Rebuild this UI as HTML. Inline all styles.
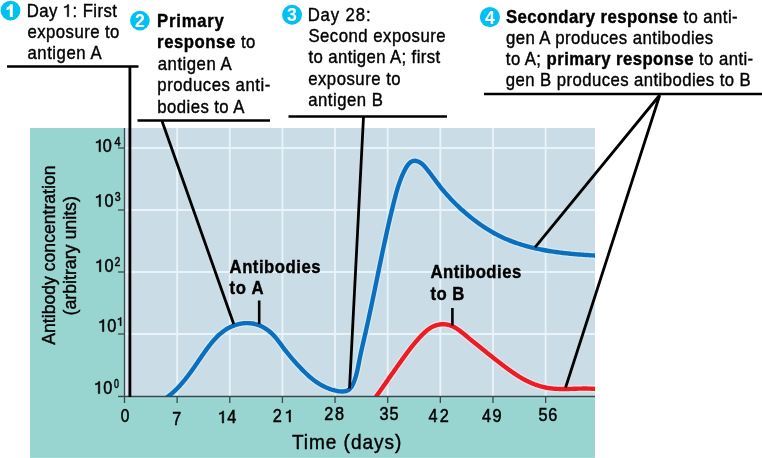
<!DOCTYPE html>
<html><head><meta charset="utf-8"><style>
html,body{margin:0;padding:0;background:#fff;width:762px;height:458px;overflow:hidden}
svg{display:block;will-change:transform}
text{font-family:"Liberation Sans",sans-serif;fill:#000;stroke:#000;stroke-width:0.4px}
text.cd{fill:#fff;stroke:none}
text.num{stroke-width:0.5px}
tspan.h{fill:none;stroke:none}
path.one{fill:#000;stroke:#000;stroke-width:0.4px;vector-effect:non-scaling-stroke}
path.one.num{stroke-width:0.5px}
</style></head><body>
<svg width="762" height="458" viewBox="0 0 762 458">
<rect x="30" y="128" width="565" height="330" fill="#98d4d0"/>
<rect x="125" y="128" width="470" height="268.5" fill="#cadde6"/>
<rect x="118" y="397.4" width="477" height="1.6" fill="#a0dcd9"/>
<rect x="30" y="457" width="565" height="1" fill="#a2dbd8"/>
<line x1="177.14" y1="128" x2="177.14" y2="396" stroke="#e9f4fa" stroke-width="1.8"/>
<line x1="229.78" y1="128" x2="229.78" y2="396" stroke="#e9f4fa" stroke-width="1.8"/>
<line x1="282.42" y1="128" x2="282.42" y2="396" stroke="#e9f4fa" stroke-width="1.8"/>
<line x1="335.06" y1="128" x2="335.06" y2="396" stroke="#e9f4fa" stroke-width="1.8"/>
<line x1="387.70" y1="128" x2="387.70" y2="396" stroke="#e9f4fa" stroke-width="1.8"/>
<line x1="440.34" y1="128" x2="440.34" y2="396" stroke="#e9f4fa" stroke-width="1.8"/>
<line x1="492.98" y1="128" x2="492.98" y2="396" stroke="#e9f4fa" stroke-width="1.8"/>
<line x1="545.62" y1="128" x2="545.62" y2="396" stroke="#e9f4fa" stroke-width="1.8"/>
<line x1="126.5" y1="128" x2="126.5" y2="396" stroke="#dce9f1" stroke-width="2.4"/>
<line x1="125" y1="334" x2="595" y2="334" stroke="#e9f4fa" stroke-width="1.8"/>
<line x1="125" y1="272" x2="595" y2="272" stroke="#e9f4fa" stroke-width="1.8"/>
<line x1="125" y1="210" x2="595" y2="210" stroke="#e9f4fa" stroke-width="1.8"/>
<line x1="125" y1="148" x2="595" y2="148" stroke="#e9f4fa" stroke-width="1.8"/>
<defs><clipPath id="pc"><rect x="125" y="128" width="470" height="268"/></clipPath></defs>
<g clip-path="url(#pc)" fill="none" stroke-linecap="round" stroke-linejoin="round">
<path d="M159.81,402.07 L161.11,401.28 L162.39,400.48 L163.65,399.66 L164.87,398.83 L166.08,397.98 L167.25,397.11 L168.41,396.23 L169.54,395.34 L170.66,394.43 L171.75,393.50 L172.82,392.57 L173.87,391.62 L174.90,390.65 L175.92,389.68 L176.92,388.69 L177.90,387.69 L178.87,386.68 L179.82,385.66 L180.75,384.62 L181.68,383.58 L182.59,382.53 L183.48,381.46 L184.37,380.39 L185.25,379.31 L186.11,378.22 L186.97,377.12 L187.82,376.01 L188.66,374.90 L189.50,373.77 L190.33,372.65 L191.15,371.51 L191.97,370.37 L192.78,369.22 L193.59,368.07 L194.40,366.91 L195.21,365.75 L196.01,364.58 L196.82,363.41 L197.62,362.23 L198.43,361.05 L199.24,359.87 L200.05,358.68 L200.86,357.50 L201.68,356.31 L202.50,355.12 L203.33,353.92 L204.17,352.73 L205.01,351.54 L205.86,350.35 L206.72,349.17 L207.58,347.99 L208.46,346.82 L209.35,345.65 L210.25,344.50 L211.16,343.37 L212.08,342.24 L213.02,341.14 L213.97,340.05 L214.94,338.98 L215.92,337.93 L216.92,336.90 L217.94,335.90 L218.97,334.93 L220.02,333.98 L221.10,333.06 L222.19,332.17 L223.30,331.32 L224.44,330.49 L225.60,329.71 L226.78,328.96 L227.98,328.25 L229.21,327.59 L230.46,326.96 L231.74,326.38 L233.04,325.84 L234.36,325.35 L235.70,324.91 L237.05,324.51 L238.42,324.16 L239.79,323.86 L241.18,323.61 L242.58,323.41 L243.98,323.26 L245.38,323.16 L246.79,323.12 L248.19,323.13 L249.60,323.20 L251.00,323.32 L252.39,323.51 L253.77,323.75 L255.15,324.04 L256.51,324.40 L257.86,324.82 L259.19,325.30 L260.50,325.85 L261.79,326.44 L263.06,327.09 L264.31,327.80 L265.53,328.55 L266.72,329.34 L267.89,330.18 L269.02,331.06 L270.12,331.98 L271.19,332.93 L272.22,333.92 L273.21,334.93 L274.18,335.97 L275.12,337.03 L276.04,338.12 L276.93,339.22 L277.82,340.34 L278.69,341.48 L279.55,342.62 L280.40,343.77 L281.26,344.93 L282.11,346.09 L282.97,347.24 L283.84,348.40 L284.72,349.55 L285.61,350.70 L286.50,351.84 L287.41,352.97 L288.32,354.10 L289.24,355.23 L290.16,356.34 L291.10,357.45 L292.03,358.56 L292.98,359.65 L293.93,360.74 L294.88,361.82 L295.84,362.89 L296.80,363.95 L297.77,365.00 L298.74,366.04 L299.71,367.08 L300.68,368.10 L301.66,369.11 L302.64,370.10 L303.62,371.09 L304.60,372.06 L305.58,373.03 L306.58,373.98 L307.58,374.91 L308.59,375.83 L309.61,376.74 L310.66,377.63 L311.72,378.51 L312.80,379.37 L313.90,380.22 L315.02,381.05 L316.17,381.86 L317.33,382.65 L318.52,383.41 L319.73,384.16 L320.97,384.88 L322.22,385.57 L323.50,386.23 L324.79,386.86 L326.11,387.46 L327.46,388.03 L328.82,388.57 L330.21,389.07 L331.62,389.53 L333.05,389.95 L334.51,390.34 L335.99,390.68 L337.49,390.98 L338.99,391.22 L340.50,391.38 L341.97,391.46 L343.41,391.43 L344.80,391.29 L346.11,391.00 L347.34,390.56 L348.46,389.96 L349.48,389.18 L350.40,388.25 L351.23,387.20 L351.98,386.04 L352.66,384.80 L353.28,383.49 L353.84,382.14 L354.36,380.78 L354.84,379.40 L355.30,378.03 L355.72,376.66 L356.12,375.28 L356.49,373.91 L356.84,372.53 L357.17,371.15 L357.48,369.78 L357.78,368.40 L358.06,367.02 L358.34,365.64 L358.61,364.26 L358.88,362.88 L359.15,361.50 L359.41,360.12 L359.68,358.74 L359.96,357.36 L360.24,355.98 L360.53,354.59 L360.82,353.21 L361.12,351.82 L361.43,350.44 L361.74,349.05 L362.05,347.67 L362.37,346.28 L362.68,344.90 L363.00,343.51 L363.33,342.12 L363.65,340.73 L363.97,339.34 L364.29,337.96 L364.61,336.57 L364.93,335.18 L365.25,333.79 L365.57,332.40 L365.89,331.01 L366.20,329.62 L366.51,328.22 L366.82,326.83 L367.13,325.44 L367.44,324.05 L367.75,322.66 L368.05,321.26 L368.36,319.87 L368.66,318.48 L368.96,317.08 L369.26,315.69 L369.56,314.30 L369.86,312.90 L370.16,311.51 L370.46,310.11 L370.76,308.72 L371.05,307.32 L371.35,305.93 L371.64,304.53 L371.93,303.14 L372.22,301.74 L372.52,300.35 L372.81,298.95 L373.10,297.56 L373.39,296.16 L373.68,294.77 L373.96,293.37 L374.25,291.97 L374.54,290.58 L374.83,289.18 L375.12,287.79 L375.40,286.39 L375.69,285.00 L375.98,283.60 L376.26,282.20 L376.55,280.81 L376.84,279.41 L377.12,278.02 L377.41,276.62 L377.69,275.23 L377.98,273.83 L378.27,272.44 L378.55,271.04 L378.84,269.65 L379.13,268.25 L379.42,266.86 L379.70,265.47 L379.99,264.07 L380.28,262.68 L380.57,261.29 L380.86,259.89 L381.15,258.50 L381.44,257.11 L381.73,255.72 L382.02,254.32 L382.31,252.93 L382.61,251.54 L382.90,250.15 L383.20,248.76 L383.49,247.37 L383.79,245.98 L384.08,244.59 L384.38,243.20 L384.68,241.81 L384.98,240.42 L385.28,239.03 L385.59,237.65 L385.89,236.26 L386.19,234.87 L386.50,233.48 L386.81,232.10 L387.12,230.71 L387.43,229.33 L387.74,227.94 L388.05,226.56 L388.37,225.18 L388.68,223.79 L389.00,222.41 L389.32,221.03 L389.64,219.65 L389.96,218.27 L390.28,216.89 L390.61,215.51 L390.94,214.13 L391.27,212.75 L391.60,211.37 L391.93,210.00 L392.27,208.62 L392.60,207.25 L392.94,205.87 L393.28,204.50 L393.63,203.12 L393.97,201.75 L394.32,200.38 L394.67,199.01 L395.02,197.64 L395.38,196.27 L395.74,194.90 L396.11,193.53 L396.49,192.16 L396.88,190.80 L397.28,189.43 L397.68,188.07 L398.11,186.70 L398.54,185.34 L398.99,183.98 L399.46,182.62 L399.94,181.26 L400.45,179.90 L400.97,178.54 L401.51,177.18 L402.08,175.82 L402.67,174.47 L403.28,173.12 L403.92,171.76 L404.59,170.41 L405.29,169.07 L406.02,167.75 L406.79,166.49 L407.60,165.30 L408.46,164.20 L409.37,163.22 L410.33,162.38 L411.35,161.69 L412.44,161.19 L413.60,160.89 L414.83,160.81 L416.12,160.95 L417.43,161.29 L418.75,161.81 L420.03,162.48 L421.26,163.29 L422.41,164.21 L423.49,165.23 L424.52,166.32 L425.50,167.45 L426.45,168.61 L427.38,169.78 L428.29,170.94 L429.19,172.11 L430.08,173.27 L430.95,174.43 L431.82,175.59 L432.68,176.74 L433.53,177.89 L434.38,179.03 L435.23,180.18 L436.08,181.31 L436.92,182.44 L437.78,183.57 L438.63,184.69 L439.49,185.80 L440.36,186.91 L441.24,188.01 L442.13,189.10 L443.03,190.19 L443.93,191.27 L444.84,192.34 L445.77,193.40 L446.70,194.46 L447.64,195.52 L448.58,196.56 L449.54,197.60 L450.50,198.63 L451.47,199.66 L452.45,200.68 L453.44,201.69 L454.44,202.70 L455.44,203.69 L456.45,204.69 L457.47,205.67 L458.50,206.65 L459.53,207.62 L460.58,208.59 L461.63,209.54 L462.69,210.50 L463.75,211.44 L464.82,212.38 L465.90,213.31 L466.99,214.23 L468.09,215.15 L469.19,216.06 L470.30,216.97 L471.42,217.86 L472.54,218.75 L473.67,219.63 L474.81,220.50 L475.95,221.36 L477.10,222.21 L478.26,223.05 L479.43,223.89 L480.60,224.71 L481.78,225.52 L482.96,226.32 L484.16,227.12 L485.35,227.90 L486.56,228.67 L487.77,229.43 L488.99,230.17 L490.21,230.91 L491.44,231.63 L492.68,232.34 L493.92,233.04 L495.17,233.72 L496.42,234.39 L497.68,235.05 L498.95,235.69 L500.22,236.32 L501.50,236.94 L502.78,237.54 L504.07,238.13 L505.37,238.70 L506.67,239.26 L507.97,239.81 L509.28,240.34 L510.60,240.86 L511.92,241.37 L513.24,241.87 L514.57,242.35 L515.90,242.83 L517.24,243.29 L518.59,243.73 L519.93,244.17 L521.28,244.60 L522.64,245.01 L524.00,245.41 L525.36,245.80 L526.73,246.19 L528.10,246.56 L529.47,246.92 L530.84,247.27 L532.22,247.61 L533.61,247.94 L534.99,248.26 L536.38,248.57 L537.77,248.87 L539.16,249.17 L540.56,249.45 L541.96,249.73 L543.36,250.00 L544.76,250.25 L546.17,250.51 L547.57,250.75 L548.98,250.98 L550.39,251.21 L551.81,251.43 L553.22,251.64 L554.63,251.85 L556.05,252.05 L557.47,252.24 L558.88,252.43 L560.30,252.61 L561.72,252.78 L563.14,252.95 L564.57,253.11 L565.99,253.27 L567.41,253.42 L568.83,253.56 L570.25,253.70 L571.67,253.84 L573.10,253.97 L574.52,254.10 L575.94,254.22 L577.36,254.34 L578.78,254.45 L580.20,254.56 L581.62,254.67 L583.04,254.77 L584.46,254.87 L585.87,254.97 L587.29,255.06 L588.70,255.16 L590.11,255.25 L591.52,255.33 L592.93,255.42 L594.34,255.50 L595.74,255.58 L597.14,255.66 L598.54,255.74 L599.94,255.81" stroke="#d2ebf8" stroke-width="6.8"/>
<path d="M159.81,402.07 L161.11,401.28 L162.39,400.48 L163.65,399.66 L164.87,398.83 L166.08,397.98 L167.25,397.11 L168.41,396.23 L169.54,395.34 L170.66,394.43 L171.75,393.50 L172.82,392.57 L173.87,391.62 L174.90,390.65 L175.92,389.68 L176.92,388.69 L177.90,387.69 L178.87,386.68 L179.82,385.66 L180.75,384.62 L181.68,383.58 L182.59,382.53 L183.48,381.46 L184.37,380.39 L185.25,379.31 L186.11,378.22 L186.97,377.12 L187.82,376.01 L188.66,374.90 L189.50,373.77 L190.33,372.65 L191.15,371.51 L191.97,370.37 L192.78,369.22 L193.59,368.07 L194.40,366.91 L195.21,365.75 L196.01,364.58 L196.82,363.41 L197.62,362.23 L198.43,361.05 L199.24,359.87 L200.05,358.68 L200.86,357.50 L201.68,356.31 L202.50,355.12 L203.33,353.92 L204.17,352.73 L205.01,351.54 L205.86,350.35 L206.72,349.17 L207.58,347.99 L208.46,346.82 L209.35,345.65 L210.25,344.50 L211.16,343.37 L212.08,342.24 L213.02,341.14 L213.97,340.05 L214.94,338.98 L215.92,337.93 L216.92,336.90 L217.94,335.90 L218.97,334.93 L220.02,333.98 L221.10,333.06 L222.19,332.17 L223.30,331.32 L224.44,330.49 L225.60,329.71 L226.78,328.96 L227.98,328.25 L229.21,327.59 L230.46,326.96 L231.74,326.38 L233.04,325.84 L234.36,325.35 L235.70,324.91 L237.05,324.51 L238.42,324.16 L239.79,323.86 L241.18,323.61 L242.58,323.41 L243.98,323.26 L245.38,323.16 L246.79,323.12 L248.19,323.13 L249.60,323.20 L251.00,323.32 L252.39,323.51 L253.77,323.75 L255.15,324.04 L256.51,324.40 L257.86,324.82 L259.19,325.30 L260.50,325.85 L261.79,326.44 L263.06,327.09 L264.31,327.80 L265.53,328.55 L266.72,329.34 L267.89,330.18 L269.02,331.06 L270.12,331.98 L271.19,332.93 L272.22,333.92 L273.21,334.93 L274.18,335.97 L275.12,337.03 L276.04,338.12 L276.93,339.22 L277.82,340.34 L278.69,341.48 L279.55,342.62 L280.40,343.77 L281.26,344.93 L282.11,346.09 L282.97,347.24 L283.84,348.40 L284.72,349.55 L285.61,350.70 L286.50,351.84 L287.41,352.97 L288.32,354.10 L289.24,355.23 L290.16,356.34 L291.10,357.45 L292.03,358.56 L292.98,359.65 L293.93,360.74 L294.88,361.82 L295.84,362.89 L296.80,363.95 L297.77,365.00 L298.74,366.04 L299.71,367.08 L300.68,368.10 L301.66,369.11 L302.64,370.10 L303.62,371.09 L304.60,372.06 L305.58,373.03 L306.58,373.98 L307.58,374.91 L308.59,375.83 L309.61,376.74 L310.66,377.63 L311.72,378.51 L312.80,379.37 L313.90,380.22 L315.02,381.05 L316.17,381.86 L317.33,382.65 L318.52,383.41 L319.73,384.16 L320.97,384.88 L322.22,385.57 L323.50,386.23 L324.79,386.86 L326.11,387.46 L327.46,388.03 L328.82,388.57 L330.21,389.07 L331.62,389.53 L333.05,389.95 L334.51,390.34 L335.99,390.68 L337.49,390.98 L338.99,391.22 L340.50,391.38 L341.97,391.46 L343.41,391.43 L344.80,391.29 L346.11,391.00 L347.34,390.56 L348.46,389.96 L349.48,389.18 L350.40,388.25 L351.23,387.20 L351.98,386.04 L352.66,384.80 L353.28,383.49 L353.84,382.14 L354.36,380.78 L354.84,379.40 L355.30,378.03 L355.72,376.66 L356.12,375.28 L356.49,373.91 L356.84,372.53 L357.17,371.15 L357.48,369.78 L357.78,368.40 L358.06,367.02 L358.34,365.64 L358.61,364.26 L358.88,362.88 L359.15,361.50 L359.41,360.12 L359.68,358.74 L359.96,357.36 L360.24,355.98 L360.53,354.59 L360.82,353.21 L361.12,351.82 L361.43,350.44 L361.74,349.05 L362.05,347.67 L362.37,346.28 L362.68,344.90 L363.00,343.51 L363.33,342.12 L363.65,340.73 L363.97,339.34 L364.29,337.96 L364.61,336.57 L364.93,335.18 L365.25,333.79 L365.57,332.40 L365.89,331.01 L366.20,329.62 L366.51,328.22 L366.82,326.83 L367.13,325.44 L367.44,324.05 L367.75,322.66 L368.05,321.26 L368.36,319.87 L368.66,318.48 L368.96,317.08 L369.26,315.69 L369.56,314.30 L369.86,312.90 L370.16,311.51 L370.46,310.11 L370.76,308.72 L371.05,307.32 L371.35,305.93 L371.64,304.53 L371.93,303.14 L372.22,301.74 L372.52,300.35 L372.81,298.95 L373.10,297.56 L373.39,296.16 L373.68,294.77 L373.96,293.37 L374.25,291.97 L374.54,290.58 L374.83,289.18 L375.12,287.79 L375.40,286.39 L375.69,285.00 L375.98,283.60 L376.26,282.20 L376.55,280.81 L376.84,279.41 L377.12,278.02 L377.41,276.62 L377.69,275.23 L377.98,273.83 L378.27,272.44 L378.55,271.04 L378.84,269.65 L379.13,268.25 L379.42,266.86 L379.70,265.47 L379.99,264.07 L380.28,262.68 L380.57,261.29 L380.86,259.89 L381.15,258.50 L381.44,257.11 L381.73,255.72 L382.02,254.32 L382.31,252.93 L382.61,251.54 L382.90,250.15 L383.20,248.76 L383.49,247.37 L383.79,245.98 L384.08,244.59 L384.38,243.20 L384.68,241.81 L384.98,240.42 L385.28,239.03 L385.59,237.65 L385.89,236.26 L386.19,234.87 L386.50,233.48 L386.81,232.10 L387.12,230.71 L387.43,229.33 L387.74,227.94 L388.05,226.56 L388.37,225.18 L388.68,223.79 L389.00,222.41 L389.32,221.03 L389.64,219.65 L389.96,218.27 L390.28,216.89 L390.61,215.51 L390.94,214.13 L391.27,212.75 L391.60,211.37 L391.93,210.00 L392.27,208.62 L392.60,207.25 L392.94,205.87 L393.28,204.50 L393.63,203.12 L393.97,201.75 L394.32,200.38 L394.67,199.01 L395.02,197.64 L395.38,196.27 L395.74,194.90 L396.11,193.53 L396.49,192.16 L396.88,190.80 L397.28,189.43 L397.68,188.07 L398.11,186.70 L398.54,185.34 L398.99,183.98 L399.46,182.62 L399.94,181.26 L400.45,179.90 L400.97,178.54 L401.51,177.18 L402.08,175.82 L402.67,174.47 L403.28,173.12 L403.92,171.76 L404.59,170.41 L405.29,169.07 L406.02,167.75 L406.79,166.49 L407.60,165.30 L408.46,164.20 L409.37,163.22 L410.33,162.38 L411.35,161.69 L412.44,161.19 L413.60,160.89 L414.83,160.81 L416.12,160.95 L417.43,161.29 L418.75,161.81 L420.03,162.48 L421.26,163.29 L422.41,164.21 L423.49,165.23 L424.52,166.32 L425.50,167.45 L426.45,168.61 L427.38,169.78 L428.29,170.94 L429.19,172.11 L430.08,173.27 L430.95,174.43 L431.82,175.59 L432.68,176.74 L433.53,177.89 L434.38,179.03 L435.23,180.18 L436.08,181.31 L436.92,182.44 L437.78,183.57 L438.63,184.69 L439.49,185.80 L440.36,186.91 L441.24,188.01 L442.13,189.10 L443.03,190.19 L443.93,191.27 L444.84,192.34 L445.77,193.40 L446.70,194.46 L447.64,195.52 L448.58,196.56 L449.54,197.60 L450.50,198.63 L451.47,199.66 L452.45,200.68 L453.44,201.69 L454.44,202.70 L455.44,203.69 L456.45,204.69 L457.47,205.67 L458.50,206.65 L459.53,207.62 L460.58,208.59 L461.63,209.54 L462.69,210.50 L463.75,211.44 L464.82,212.38 L465.90,213.31 L466.99,214.23 L468.09,215.15 L469.19,216.06 L470.30,216.97 L471.42,217.86 L472.54,218.75 L473.67,219.63 L474.81,220.50 L475.95,221.36 L477.10,222.21 L478.26,223.05 L479.43,223.89 L480.60,224.71 L481.78,225.52 L482.96,226.32 L484.16,227.12 L485.35,227.90 L486.56,228.67 L487.77,229.43 L488.99,230.17 L490.21,230.91 L491.44,231.63 L492.68,232.34 L493.92,233.04 L495.17,233.72 L496.42,234.39 L497.68,235.05 L498.95,235.69 L500.22,236.32 L501.50,236.94 L502.78,237.54 L504.07,238.13 L505.37,238.70 L506.67,239.26 L507.97,239.81 L509.28,240.34 L510.60,240.86 L511.92,241.37 L513.24,241.87 L514.57,242.35 L515.90,242.83 L517.24,243.29 L518.59,243.73 L519.93,244.17 L521.28,244.60 L522.64,245.01 L524.00,245.41 L525.36,245.80 L526.73,246.19 L528.10,246.56 L529.47,246.92 L530.84,247.27 L532.22,247.61 L533.61,247.94 L534.99,248.26 L536.38,248.57 L537.77,248.87 L539.16,249.17 L540.56,249.45 L541.96,249.73 L543.36,250.00 L544.76,250.25 L546.17,250.51 L547.57,250.75 L548.98,250.98 L550.39,251.21 L551.81,251.43 L553.22,251.64 L554.63,251.85 L556.05,252.05 L557.47,252.24 L558.88,252.43 L560.30,252.61 L561.72,252.78 L563.14,252.95 L564.57,253.11 L565.99,253.27 L567.41,253.42 L568.83,253.56 L570.25,253.70 L571.67,253.84 L573.10,253.97 L574.52,254.10 L575.94,254.22 L577.36,254.34 L578.78,254.45 L580.20,254.56 L581.62,254.67 L583.04,254.77 L584.46,254.87 L585.87,254.97 L587.29,255.06 L588.70,255.16 L590.11,255.25 L591.52,255.33 L592.93,255.42 L594.34,255.50 L595.74,255.58 L597.14,255.66 L598.54,255.74 L599.94,255.81" stroke="#0d6fbb" stroke-width="4.4"/>
<path d="M372.07,402.00 L372.40,401.55 L372.74,401.09 L373.07,400.64 L373.40,400.19 L373.74,399.73 L374.07,399.28 L374.40,398.82 L374.74,398.36 L375.07,397.90 L375.40,397.45 L375.74,396.99 L376.07,396.53 L376.40,396.07 L376.73,395.61 L377.07,395.15 L377.40,394.68 L377.73,394.22 L378.06,393.76 L378.39,393.30 L378.72,392.83 L379.06,392.37 L379.39,391.90 L379.72,391.44 L380.05,390.97 L380.38,390.51 L380.71,390.04 L381.04,389.58 L381.37,389.11 L381.70,388.64 L382.03,388.17 L382.36,387.71 L382.69,387.24 L383.02,386.77 L383.35,386.30 L383.68,385.83 L384.01,385.36 L384.34,384.90 L384.67,384.43 L385.00,383.96 L385.33,383.49 L385.66,383.02 L385.99,382.55 L386.32,382.08 L386.65,381.60 L386.98,381.13 L387.31,380.66 L387.63,380.19 L387.96,379.72 L388.29,379.25 L388.62,378.78 L388.95,378.31 L389.28,377.84 L389.61,377.37 L389.94,376.90 L390.27,376.43 L390.60,375.95 L390.92,375.48 L391.25,375.01 L391.58,374.54 L391.91,374.07 L392.24,373.60 L392.57,373.13 L392.90,372.66 L393.23,372.19 L393.56,371.72 L393.88,371.25 L394.21,370.78 L394.54,370.31 L394.87,369.84 L395.20,369.38 L395.53,368.91 L395.86,368.44 L396.19,367.97 L396.52,367.50 L396.85,367.04 L397.18,366.57 L397.51,366.10 L397.84,365.64 L398.17,365.17 L398.50,364.70 L398.82,364.24 L399.15,363.78 L399.48,363.31 L399.81,362.85 L400.15,362.38 L400.48,361.92 L400.81,361.46 L401.14,361.00 L401.47,360.54 L401.80,360.07 L402.13,359.61 L402.46,359.15 L402.79,358.70 L403.12,358.24 L403.45,357.78 L403.78,357.32 L404.12,356.86 L404.45,356.41 L404.78,355.95 L405.11,355.50 L405.44,355.04 L405.78,354.59 L406.11,354.14 L406.44,353.69 L406.78,353.23 L407.11,352.78 L407.44,352.33 L407.78,351.88 L408.12,351.44 L408.45,350.99 L408.79,350.54 L409.13,350.09 L409.47,349.65 L409.81,349.20 L410.15,348.76 L410.50,348.31 L410.84,347.87 L411.19,347.43 L411.53,346.99 L411.88,346.54 L412.23,346.10 L412.59,345.66 L412.94,345.22 L413.30,344.79 L413.65,344.35 L414.01,343.91 L414.38,343.47 L414.74,343.04 L415.10,342.60 L415.47,342.17 L415.84,341.73 L416.22,341.30 L416.59,340.87 L416.97,340.44 L417.35,340.00 L417.73,339.57 L418.12,339.14 L418.50,338.71 L418.89,338.29 L419.29,337.86 L419.69,337.43 L420.08,337.00 L420.49,336.58 L420.89,336.15 L421.30,335.73 L421.72,335.30 L422.13,334.88 L422.55,334.46 L422.97,334.04 L423.40,333.62 L423.83,333.20 L424.27,332.79 L424.70,332.38 L425.14,331.97 L425.59,331.57 L426.04,331.18 L426.49,330.79 L426.95,330.41 L427.41,330.03 L427.88,329.67 L428.35,329.31 L428.83,328.97 L429.31,328.63 L429.79,328.31 L430.28,328.00 L430.77,327.70 L431.27,327.41 L431.77,327.13 L432.28,326.87 L432.79,326.62 L433.30,326.38 L433.82,326.15 L434.34,325.94 L434.86,325.74 L435.38,325.55 L435.91,325.37 L436.44,325.21 L436.98,325.05 L437.51,324.92 L438.05,324.79 L438.58,324.68 L439.12,324.58 L439.66,324.49 L440.20,324.41 L440.75,324.35 L441.29,324.30 L441.83,324.26 L442.37,324.24 L442.92,324.23 L443.46,324.23 L444.00,324.25 L444.54,324.28 L445.08,324.32 L445.62,324.37 L446.15,324.44 L446.69,324.52 L447.22,324.62 L447.75,324.72 L448.28,324.84 L448.81,324.98 L449.34,325.13 L449.86,325.29 L450.38,325.46 L450.89,325.65 L451.41,325.85 L451.92,326.06 L452.42,326.28 L452.93,326.51 L453.43,326.76 L453.93,327.01 L454.43,327.28 L454.93,327.55 L455.42,327.84 L455.91,328.13 L456.40,328.43 L456.89,328.74 L457.37,329.05 L457.85,329.38 L458.34,329.71 L458.81,330.04 L459.29,330.38 L459.77,330.73 L460.24,331.08 L460.71,331.44 L461.18,331.80 L461.65,332.17 L462.12,332.54 L462.58,332.91 L463.05,333.29 L463.51,333.67 L463.97,334.05 L464.43,334.43 L464.89,334.81 L465.35,335.20 L465.80,335.58 L466.26,335.97 L466.71,336.35 L467.17,336.74 L467.62,337.12 L468.07,337.50 L468.52,337.88 L468.97,338.26 L469.42,338.63 L469.87,339.00 L470.32,339.37 L470.77,339.74 L471.21,340.10 L471.66,340.46 L472.11,340.82 L472.55,341.18 L473.00,341.53 L473.44,341.89 L473.88,342.24 L474.33,342.59 L474.77,342.94 L475.21,343.29 L475.65,343.64 L476.10,343.99 L476.54,344.34 L476.98,344.69 L477.42,345.04 L477.86,345.38 L478.30,345.73 L478.74,346.08 L479.18,346.43 L479.62,346.79 L480.06,347.14 L480.50,347.50 L480.94,347.85 L481.37,348.21 L481.81,348.57 L482.25,348.92 L482.69,349.28 L483.13,349.64 L483.57,350.00 L484.00,350.36 L484.44,350.72 L484.88,351.07 L485.32,351.43 L485.76,351.79 L486.19,352.14 L486.63,352.50 L487.07,352.85 L487.51,353.20 L487.95,353.56 L488.39,353.91 L488.82,354.26 L489.26,354.61 L489.70,354.95 L490.14,355.30 L490.58,355.65 L491.02,356.00 L491.46,356.34 L491.90,356.69 L492.34,357.03 L492.78,357.38 L493.22,357.72 L493.67,358.07 L494.11,358.41 L494.55,358.76 L494.99,359.10 L495.44,359.45 L495.88,359.79 L496.33,360.14 L496.77,360.48 L497.22,360.83 L497.66,361.17 L498.11,361.52 L498.56,361.87 L499.00,362.21 L499.45,362.56 L499.90,362.91 L500.35,363.26 L500.80,363.60 L501.25,363.95 L501.70,364.30 L502.15,364.65 L502.61,364.99 L503.06,365.34 L503.52,365.69 L503.97,366.04 L504.43,366.38 L504.88,366.73 L505.34,367.07 L505.80,367.42 L506.26,367.76 L506.72,368.11 L507.18,368.45 L507.64,368.79 L508.11,369.13 L508.57,369.47 L509.04,369.81 L509.50,370.15 L509.97,370.48 L510.44,370.82 L510.91,371.15 L511.38,371.49 L511.85,371.82 L512.32,372.15 L512.80,372.48 L513.27,372.80 L513.75,373.13 L514.23,373.45 L514.70,373.77 L515.18,374.09 L515.67,374.41 L516.15,374.73 L516.63,375.04 L517.12,375.35 L517.60,375.66 L518.09,375.97 L518.58,376.27 L519.07,376.58 L519.56,376.88 L520.06,377.17 L520.55,377.47 L521.05,377.76 L521.55,378.05 L522.05,378.34 L522.55,378.62 L523.05,378.90 L523.55,379.18 L524.06,379.46 L524.56,379.73 L525.07,380.00 L525.58,380.26 L526.09,380.53 L526.61,380.79 L527.12,381.04 L527.64,381.30 L528.15,381.55 L528.67,381.79 L529.19,382.04 L529.71,382.28 L530.23,382.51 L530.76,382.74 L531.28,382.97 L531.81,383.20 L532.33,383.42 L532.86,383.64 L533.39,383.85 L533.92,384.06 L534.45,384.27 L534.99,384.47 L535.52,384.67 L536.05,384.86 L536.59,385.05 L537.13,385.23 L537.67,385.41 L538.21,385.59 L538.75,385.76 L539.29,385.93 L539.83,386.09 L540.37,386.25 L540.92,386.41 L541.46,386.56 L542.01,386.70 L542.56,386.84 L543.11,386.98 L543.66,387.11 L544.21,387.24 L544.76,387.36 L545.31,387.47 L545.86,387.58 L546.42,387.69 L546.97,387.79 L547.53,387.89 L548.08,387.98 L548.64,388.07 L549.20,388.15 L549.76,388.23 L550.32,388.30 L550.88,388.37 L551.44,388.43 L552.00,388.49 L552.56,388.55 L553.12,388.60 L553.68,388.65 L554.25,388.70 L554.81,388.74 L555.38,388.78 L555.94,388.81 L556.51,388.85 L557.08,388.88 L557.64,388.90 L558.21,388.92 L558.78,388.94 L559.35,388.96 L559.92,388.97 L560.49,388.99 L561.06,389.00 L561.63,389.00 L562.20,389.01 L562.77,389.01 L563.34,389.01 L563.91,389.01 L564.49,389.01 L565.06,389.00 L565.63,389.00 L566.21,388.99 L566.78,388.98 L567.35,388.97 L567.93,388.96 L568.50,388.94 L569.08,388.93 L569.65,388.92 L570.23,388.90 L570.80,388.88 L571.38,388.87 L571.95,388.85 L572.53,388.83 L573.11,388.81 L573.68,388.79 L574.26,388.78 L574.84,388.76 L575.41,388.74 L575.99,388.72 L576.56,388.70 L577.14,388.69 L577.72,388.67 L578.29,388.65 L578.87,388.64 L579.45,388.62 L580.02,388.61 L580.60,388.60 L581.17,388.59 L581.75,388.58 L582.33,388.57 L582.90,388.56 L583.48,388.55 L584.05,388.55 L584.63,388.55 L585.20,388.55 L585.78,388.55 L586.35,388.55 L586.93,388.56 L587.50,388.56 L588.07,388.58 L588.65,388.59 L589.22,388.60 L589.79,388.62 L590.37,388.64 L590.94,388.67 L591.51,388.69 L592.08,388.72 L592.65,388.75 L593.22,388.79 L593.79,388.83 L594.36,388.87 L594.93,388.92 L595.50,388.97 L596.07,389.02 L596.64,389.08 L597.20,389.14 L597.77,389.21 L598.34,389.28 L598.90,389.36 L599.47,389.43 L600.03,389.52" stroke="#f4e4ea" stroke-width="6.8"/>
<path d="M372.07,402.00 L372.40,401.55 L372.74,401.09 L373.07,400.64 L373.40,400.19 L373.74,399.73 L374.07,399.28 L374.40,398.82 L374.74,398.36 L375.07,397.90 L375.40,397.45 L375.74,396.99 L376.07,396.53 L376.40,396.07 L376.73,395.61 L377.07,395.15 L377.40,394.68 L377.73,394.22 L378.06,393.76 L378.39,393.30 L378.72,392.83 L379.06,392.37 L379.39,391.90 L379.72,391.44 L380.05,390.97 L380.38,390.51 L380.71,390.04 L381.04,389.58 L381.37,389.11 L381.70,388.64 L382.03,388.17 L382.36,387.71 L382.69,387.24 L383.02,386.77 L383.35,386.30 L383.68,385.83 L384.01,385.36 L384.34,384.90 L384.67,384.43 L385.00,383.96 L385.33,383.49 L385.66,383.02 L385.99,382.55 L386.32,382.08 L386.65,381.60 L386.98,381.13 L387.31,380.66 L387.63,380.19 L387.96,379.72 L388.29,379.25 L388.62,378.78 L388.95,378.31 L389.28,377.84 L389.61,377.37 L389.94,376.90 L390.27,376.43 L390.60,375.95 L390.92,375.48 L391.25,375.01 L391.58,374.54 L391.91,374.07 L392.24,373.60 L392.57,373.13 L392.90,372.66 L393.23,372.19 L393.56,371.72 L393.88,371.25 L394.21,370.78 L394.54,370.31 L394.87,369.84 L395.20,369.38 L395.53,368.91 L395.86,368.44 L396.19,367.97 L396.52,367.50 L396.85,367.04 L397.18,366.57 L397.51,366.10 L397.84,365.64 L398.17,365.17 L398.50,364.70 L398.82,364.24 L399.15,363.78 L399.48,363.31 L399.81,362.85 L400.15,362.38 L400.48,361.92 L400.81,361.46 L401.14,361.00 L401.47,360.54 L401.80,360.07 L402.13,359.61 L402.46,359.15 L402.79,358.70 L403.12,358.24 L403.45,357.78 L403.78,357.32 L404.12,356.86 L404.45,356.41 L404.78,355.95 L405.11,355.50 L405.44,355.04 L405.78,354.59 L406.11,354.14 L406.44,353.69 L406.78,353.23 L407.11,352.78 L407.44,352.33 L407.78,351.88 L408.12,351.44 L408.45,350.99 L408.79,350.54 L409.13,350.09 L409.47,349.65 L409.81,349.20 L410.15,348.76 L410.50,348.31 L410.84,347.87 L411.19,347.43 L411.53,346.99 L411.88,346.54 L412.23,346.10 L412.59,345.66 L412.94,345.22 L413.30,344.79 L413.65,344.35 L414.01,343.91 L414.38,343.47 L414.74,343.04 L415.10,342.60 L415.47,342.17 L415.84,341.73 L416.22,341.30 L416.59,340.87 L416.97,340.44 L417.35,340.00 L417.73,339.57 L418.12,339.14 L418.50,338.71 L418.89,338.29 L419.29,337.86 L419.69,337.43 L420.08,337.00 L420.49,336.58 L420.89,336.15 L421.30,335.73 L421.72,335.30 L422.13,334.88 L422.55,334.46 L422.97,334.04 L423.40,333.62 L423.83,333.20 L424.27,332.79 L424.70,332.38 L425.14,331.97 L425.59,331.57 L426.04,331.18 L426.49,330.79 L426.95,330.41 L427.41,330.03 L427.88,329.67 L428.35,329.31 L428.83,328.97 L429.31,328.63 L429.79,328.31 L430.28,328.00 L430.77,327.70 L431.27,327.41 L431.77,327.13 L432.28,326.87 L432.79,326.62 L433.30,326.38 L433.82,326.15 L434.34,325.94 L434.86,325.74 L435.38,325.55 L435.91,325.37 L436.44,325.21 L436.98,325.05 L437.51,324.92 L438.05,324.79 L438.58,324.68 L439.12,324.58 L439.66,324.49 L440.20,324.41 L440.75,324.35 L441.29,324.30 L441.83,324.26 L442.37,324.24 L442.92,324.23 L443.46,324.23 L444.00,324.25 L444.54,324.28 L445.08,324.32 L445.62,324.37 L446.15,324.44 L446.69,324.52 L447.22,324.62 L447.75,324.72 L448.28,324.84 L448.81,324.98 L449.34,325.13 L449.86,325.29 L450.38,325.46 L450.89,325.65 L451.41,325.85 L451.92,326.06 L452.42,326.28 L452.93,326.51 L453.43,326.76 L453.93,327.01 L454.43,327.28 L454.93,327.55 L455.42,327.84 L455.91,328.13 L456.40,328.43 L456.89,328.74 L457.37,329.05 L457.85,329.38 L458.34,329.71 L458.81,330.04 L459.29,330.38 L459.77,330.73 L460.24,331.08 L460.71,331.44 L461.18,331.80 L461.65,332.17 L462.12,332.54 L462.58,332.91 L463.05,333.29 L463.51,333.67 L463.97,334.05 L464.43,334.43 L464.89,334.81 L465.35,335.20 L465.80,335.58 L466.26,335.97 L466.71,336.35 L467.17,336.74 L467.62,337.12 L468.07,337.50 L468.52,337.88 L468.97,338.26 L469.42,338.63 L469.87,339.00 L470.32,339.37 L470.77,339.74 L471.21,340.10 L471.66,340.46 L472.11,340.82 L472.55,341.18 L473.00,341.53 L473.44,341.89 L473.88,342.24 L474.33,342.59 L474.77,342.94 L475.21,343.29 L475.65,343.64 L476.10,343.99 L476.54,344.34 L476.98,344.69 L477.42,345.04 L477.86,345.38 L478.30,345.73 L478.74,346.08 L479.18,346.43 L479.62,346.79 L480.06,347.14 L480.50,347.50 L480.94,347.85 L481.37,348.21 L481.81,348.57 L482.25,348.92 L482.69,349.28 L483.13,349.64 L483.57,350.00 L484.00,350.36 L484.44,350.72 L484.88,351.07 L485.32,351.43 L485.76,351.79 L486.19,352.14 L486.63,352.50 L487.07,352.85 L487.51,353.20 L487.95,353.56 L488.39,353.91 L488.82,354.26 L489.26,354.61 L489.70,354.95 L490.14,355.30 L490.58,355.65 L491.02,356.00 L491.46,356.34 L491.90,356.69 L492.34,357.03 L492.78,357.38 L493.22,357.72 L493.67,358.07 L494.11,358.41 L494.55,358.76 L494.99,359.10 L495.44,359.45 L495.88,359.79 L496.33,360.14 L496.77,360.48 L497.22,360.83 L497.66,361.17 L498.11,361.52 L498.56,361.87 L499.00,362.21 L499.45,362.56 L499.90,362.91 L500.35,363.26 L500.80,363.60 L501.25,363.95 L501.70,364.30 L502.15,364.65 L502.61,364.99 L503.06,365.34 L503.52,365.69 L503.97,366.04 L504.43,366.38 L504.88,366.73 L505.34,367.07 L505.80,367.42 L506.26,367.76 L506.72,368.11 L507.18,368.45 L507.64,368.79 L508.11,369.13 L508.57,369.47 L509.04,369.81 L509.50,370.15 L509.97,370.48 L510.44,370.82 L510.91,371.15 L511.38,371.49 L511.85,371.82 L512.32,372.15 L512.80,372.48 L513.27,372.80 L513.75,373.13 L514.23,373.45 L514.70,373.77 L515.18,374.09 L515.67,374.41 L516.15,374.73 L516.63,375.04 L517.12,375.35 L517.60,375.66 L518.09,375.97 L518.58,376.27 L519.07,376.58 L519.56,376.88 L520.06,377.17 L520.55,377.47 L521.05,377.76 L521.55,378.05 L522.05,378.34 L522.55,378.62 L523.05,378.90 L523.55,379.18 L524.06,379.46 L524.56,379.73 L525.07,380.00 L525.58,380.26 L526.09,380.53 L526.61,380.79 L527.12,381.04 L527.64,381.30 L528.15,381.55 L528.67,381.79 L529.19,382.04 L529.71,382.28 L530.23,382.51 L530.76,382.74 L531.28,382.97 L531.81,383.20 L532.33,383.42 L532.86,383.64 L533.39,383.85 L533.92,384.06 L534.45,384.27 L534.99,384.47 L535.52,384.67 L536.05,384.86 L536.59,385.05 L537.13,385.23 L537.67,385.41 L538.21,385.59 L538.75,385.76 L539.29,385.93 L539.83,386.09 L540.37,386.25 L540.92,386.41 L541.46,386.56 L542.01,386.70 L542.56,386.84 L543.11,386.98 L543.66,387.11 L544.21,387.24 L544.76,387.36 L545.31,387.47 L545.86,387.58 L546.42,387.69 L546.97,387.79 L547.53,387.89 L548.08,387.98 L548.64,388.07 L549.20,388.15 L549.76,388.23 L550.32,388.30 L550.88,388.37 L551.44,388.43 L552.00,388.49 L552.56,388.55 L553.12,388.60 L553.68,388.65 L554.25,388.70 L554.81,388.74 L555.38,388.78 L555.94,388.81 L556.51,388.85 L557.08,388.88 L557.64,388.90 L558.21,388.92 L558.78,388.94 L559.35,388.96 L559.92,388.97 L560.49,388.99 L561.06,389.00 L561.63,389.00 L562.20,389.01 L562.77,389.01 L563.34,389.01 L563.91,389.01 L564.49,389.01 L565.06,389.00 L565.63,389.00 L566.21,388.99 L566.78,388.98 L567.35,388.97 L567.93,388.96 L568.50,388.94 L569.08,388.93 L569.65,388.92 L570.23,388.90 L570.80,388.88 L571.38,388.87 L571.95,388.85 L572.53,388.83 L573.11,388.81 L573.68,388.79 L574.26,388.78 L574.84,388.76 L575.41,388.74 L575.99,388.72 L576.56,388.70 L577.14,388.69 L577.72,388.67 L578.29,388.65 L578.87,388.64 L579.45,388.62 L580.02,388.61 L580.60,388.60 L581.17,388.59 L581.75,388.58 L582.33,388.57 L582.90,388.56 L583.48,388.55 L584.05,388.55 L584.63,388.55 L585.20,388.55 L585.78,388.55 L586.35,388.55 L586.93,388.56 L587.50,388.56 L588.07,388.58 L588.65,388.59 L589.22,388.60 L589.79,388.62 L590.37,388.64 L590.94,388.67 L591.51,388.69 L592.08,388.72 L592.65,388.75 L593.22,388.79 L593.79,388.83 L594.36,388.87 L594.93,388.92 L595.50,388.97 L596.07,389.02 L596.64,389.08 L597.20,389.14 L597.77,389.21 L598.34,389.28 L598.90,389.36 L599.47,389.43 L600.03,389.52" stroke="#e91d25" stroke-width="4.4"/>
</g>
<line x1="124.5" y1="128" x2="124.5" y2="403" stroke="#3c4a4e" stroke-width="1.3"/>
<line x1="118" y1="396.5" x2="595" y2="396.5" stroke="#3c4a4e" stroke-width="1.4"/>
<line x1="118" y1="334" x2="124.5" y2="334" stroke="#3c4a4e" stroke-width="1.3"/>
<line x1="118" y1="272" x2="124.5" y2="272" stroke="#3c4a4e" stroke-width="1.3"/>
<line x1="118" y1="210" x2="124.5" y2="210" stroke="#3c4a4e" stroke-width="1.3"/>
<line x1="118" y1="148" x2="124.5" y2="148" stroke="#3c4a4e" stroke-width="1.3"/>
<line x1="177.14" y1="396.5" x2="177.14" y2="403" stroke="#3c4a4e" stroke-width="1.3"/>
<line x1="229.78" y1="396.5" x2="229.78" y2="403" stroke="#3c4a4e" stroke-width="1.3"/>
<line x1="282.42" y1="396.5" x2="282.42" y2="403" stroke="#3c4a4e" stroke-width="1.3"/>
<line x1="335.06" y1="396.5" x2="335.06" y2="403" stroke="#3c4a4e" stroke-width="1.3"/>
<line x1="387.70" y1="396.5" x2="387.70" y2="403" stroke="#3c4a4e" stroke-width="1.3"/>
<line x1="440.34" y1="396.5" x2="440.34" y2="403" stroke="#3c4a4e" stroke-width="1.3"/>
<line x1="492.98" y1="396.5" x2="492.98" y2="403" stroke="#3c4a4e" stroke-width="1.3"/>
<line x1="545.62" y1="396.5" x2="545.62" y2="403" stroke="#3c4a4e" stroke-width="1.3"/>
<path d="M7,66.5 H138.5 M137.5,120.5 H270 M288.5,116.5 H447 M484,94 H762" stroke="#000" stroke-width="2.7" fill="none"/>
<path d="M129.9,66.5 V397 M162,121 L233.7,324 M363.5,117 L349.5,388.5 M659.8,95 L535,247.3 M659.8,95 L565.6,387.5" stroke="#000" stroke-width="2.8" fill="none"/>
<path d="M259.2,300.5 V324 M452.4,308 V325.5" stroke="#000" stroke-width="2.6"/>
<circle cx="10.5" cy="10.6" r="9.9" fill="#02c1f2"/>
<path d="M12.8,4.2 L12.8,16.9 L9.8,16.9 L9.8,8.7 C8.9,9.5 7.9,9.9 6.6,10.2 L6.6,7.5 C8.3,7.1 9.5,6.0 10.1,4.2 Z" fill="#fff"/>
<circle cx="139.9" cy="20.6" r="9.8" fill="#02c1f2"/>
<circle cx="292.05" cy="14.8" r="9.95" fill="#02c1f2"/>
<circle cx="489.9" cy="17.05" r="10.1" fill="#02c1f2"/>
<text class="cd" x="139.8" y="26.9" text-anchor="middle" font-size="17.7" font-weight="bold">2</text>
<text class="cd" x="291.95" y="21.1" text-anchor="middle" font-size="17.7" font-weight="bold">3</text>
<text class="cd" x="489.95" y="23.6" text-anchor="middle" font-size="17.7" font-weight="bold">4</text>
<g id="g_l1a"><text id="l1a" x="26.85" y="16.8" font-size="18" textLength="96.83" lengthAdjust="spacing" transform="matrix(0.93,0,0,1,1.879,0)">Day <tspan class="h">1</tspan>: First</text>
<g transform="matrix(0.93,0,0,1,1.879,0)"><path class="one" transform="translate(65.609,16.800) scale(0.00879,-0.00879)" d="M715,0 L715,1409 L575,1409 C535,1290 430,1200 170,1170 L170,1015 C330,1035 450,1085 530,1150 L530,0 Z"/></g>
</g>
<g id="g_l1b"><text id="l1b" x="27.50" y="37.9" font-size="18" textLength="98.87" lengthAdjust="spacing" transform="matrix(0.93,0,0,1,1.925,0)">exposure to</text>
</g>
<g id="g_l1c"><text id="l1c" x="27.50" y="58.95" font-size="18" textLength="79.62" lengthAdjust="spacing" transform="matrix(0.93,0,0,1,1.925,0)">antigen A</text>
</g>
<g id="g_l2a"><text id="l2a" x="157.10" y="26.8" font-size="18" textLength="71.86" lengthAdjust="spacing" transform="matrix(0.93,0,0,1,10.997,0)"><tspan font-weight="bold">Primary</tspan></text>
</g>
<g id="g_l2b"><text id="l2b" x="157.10" y="48.1" font-size="18" textLength="105.68" lengthAdjust="spacing" transform="matrix(0.93,0,0,1,10.997,0)"><tspan font-weight="bold">response</tspan> to</text>
</g>
<g id="g_l2c"><text id="l2c" x="157.80" y="69.6" font-size="18" textLength="79.35" lengthAdjust="spacing" transform="matrix(0.93,0,0,1,11.046,0)">antigen A</text>
</g>
<g id="g_l2d"><text id="l2d" x="157.30" y="91.2" font-size="18" textLength="121.55" lengthAdjust="spacing" transform="matrix(0.93,0,0,1,11.011,0)">produces anti-</text>
</g>
<g id="g_l2e"><text id="l2e" x="157.30" y="112.6" font-size="18" textLength="93.61" lengthAdjust="spacing" transform="matrix(0.93,0,0,1,11.011,0)">bodies to A</text>
</g>
<g id="g_l3a"><text id="l3a" x="307.65" y="21.0" font-size="18" textLength="67.67" lengthAdjust="spacing" transform="matrix(0.93,0,0,1,21.535,0)">Day 28:</text>
</g>
<g id="g_l3b"><text id="l3b" x="308.40" y="42.35" font-size="18" textLength="147.57" lengthAdjust="spacing" transform="matrix(0.93,0,0,1,21.588,0)">Second exposure</text>
</g>
<g id="g_l3c"><text id="l3c" x="308.50" y="63.4" font-size="18" textLength="141.55" lengthAdjust="spacing" transform="matrix(0.93,0,0,1,21.595,0)">to antigen A; first</text>
</g>
<g id="g_l3d"><text id="l3d" x="308.20" y="84.8" font-size="18" textLength="99.40" lengthAdjust="spacing" transform="matrix(0.93,0,0,1,21.574,0)">exposure to</text>
</g>
<g id="g_l3e"><text id="l3e" x="308.20" y="106.2" font-size="18" textLength="80.34" lengthAdjust="spacing" transform="matrix(0.93,0,0,1,21.574,0)">antigen B</text>
</g>
<g id="g_l4a"><text id="l4a" x="505.95" y="22.9" font-size="18" textLength="249.13" lengthAdjust="spacing" transform="matrix(0.93,0,0,1,35.416,0)"><tspan font-weight="bold">Secondary response</tspan> to anti-</text>
</g>
<g id="g_l4b"><text id="l4b" x="505.90" y="44.1" font-size="18" textLength="222.93" lengthAdjust="spacing" transform="matrix(0.93,0,0,1,35.413,0)">gen A produces antibodies</text>
</g>
<g id="g_l4c"><text id="l4c" x="505.80" y="65.3" font-size="18" textLength="266.03" lengthAdjust="spacing" transform="matrix(0.93,0,0,1,35.406,0)">to A; <tspan font-weight="bold">primary response</tspan> to anti-</text>
</g>
<g id="g_l4d"><text id="l4d" x="505.70" y="86.3" font-size="18" textLength="263.54" lengthAdjust="spacing" transform="matrix(0.93,0,0,1,35.399,0)">gen B produces antibodies to B</text>
</g>
<g id="g_abA1"><text id="abA1" x="229.55" y="272.7" font-size="18" textLength="97.82" lengthAdjust="spacing" transform="matrix(0.93,0,0,1,16.068,0)"><tspan font-weight="bold">Antibodies</tspan></text>
</g>
<g id="g_abA2"><text id="abA2" x="229.40" y="294.3" font-size="18" textLength="36.74" lengthAdjust="spacing" transform="matrix(0.93,0,0,1,16.058,0)"><tspan font-weight="bold">to A</tspan></text>
</g>
<g id="g_abB1"><text id="abB1" x="430.55" y="277.7" font-size="18" textLength="97.55" lengthAdjust="spacing" transform="matrix(0.93,0,0,1,30.138,0)"><tspan font-weight="bold">Antibodies</tspan></text>
</g>
<g id="g_abB2"><text id="abB2" x="430.50" y="300.1" font-size="18" textLength="36.33" lengthAdjust="spacing" transform="matrix(0.93,0,0,1,30.135,0)"><tspan font-weight="bold">to B</tspan></text>
</g>
<g id="g_y4"><text id="y4" class="num" x="94.80" y="151.7" font-size="17.5" textLength="18.37" lengthAdjust="spacing" transform="matrix(0.93,0,0,1,6.636,0)"><tspan class="h">1</tspan>0</text>
<g transform="matrix(0.93,0,0,1,6.636,0)"><path class="one num" transform="translate(94.800,151.700) scale(0.00854,-0.00854)" d="M715,0 L715,1409 L575,1409 C535,1290 430,1200 170,1170 L170,1015 C330,1035 450,1085 530,1150 L530,0 Z"/></g>
</g>
<g id="g_y4s"><text id="y4s" class="num" x="114.46" y="145.7" font-size="12" textLength="6.09" lengthAdjust="spacingAndGlyphs">4</text>
</g>
<g id="g_y3"><text id="y3" class="num" x="94.90" y="206.6" font-size="17.5" textLength="19.99" lengthAdjust="spacing" transform="matrix(0.93,0,0,1,6.643,0)"><tspan class="h">1</tspan>0</text>
<g transform="matrix(0.93,0,0,1,6.643,0)"><path class="one num" transform="translate(94.900,206.600) scale(0.00854,-0.00854)" d="M715,0 L715,1409 L575,1409 C535,1290 430,1200 170,1170 L170,1015 C330,1035 450,1085 530,1150 L530,0 Z"/></g>
</g>
<g id="g_y3s"><text id="y3s" class="num" x="114.81" y="200.7" font-size="12" textLength="5.90" lengthAdjust="spacingAndGlyphs">3</text>
</g>
<g id="g_y2"><text id="y2" class="num" x="95.20" y="271.7" font-size="17.5" textLength="19.72" lengthAdjust="spacing" transform="matrix(0.93,0,0,1,6.664,0)"><tspan class="h">1</tspan>0</text>
<g transform="matrix(0.93,0,0,1,6.664,0)"><path class="one num" transform="translate(95.200,271.700) scale(0.00854,-0.00854)" d="M715,0 L715,1409 L575,1409 C535,1290 430,1200 170,1170 L170,1015 C330,1035 450,1085 530,1150 L530,0 Z"/></g>
</g>
<g id="g_y2s"><text id="y2s" class="num" x="114.53" y="265.5" font-size="12" textLength="5.85" lengthAdjust="spacingAndGlyphs">2</text>
</g>
<g id="g_y1"><text id="y1" class="num" x="98.20" y="331.6" font-size="17.5" textLength="19.45" lengthAdjust="spacing" transform="matrix(0.93,0,0,1,6.874,0)"><tspan class="h">1</tspan>0</text>
<g transform="matrix(0.93,0,0,1,6.874,0)"><path class="one num" transform="translate(98.200,331.600) scale(0.00854,-0.00854)" d="M715,0 L715,1409 L575,1409 C535,1290 430,1200 170,1170 L170,1015 C330,1035 450,1085 530,1150 L530,0 Z"/></g>
</g>
<g id="g_y1s"><path class="one num" transform="translate(116.950,325.7) scale(0.00586,-0.00586)" d="M715,0 L715,1409 L575,1409 C535,1290 430,1200 170,1170 L170,1015 C330,1035 450,1085 530,1150 L530,0 Z"/></g>
<g id="g_y0"><text id="y0" class="num" x="94.10" y="393.6" font-size="17.5" textLength="19.45" lengthAdjust="spacing" transform="matrix(0.93,0,0,1,6.587,0)"><tspan class="h">1</tspan>0</text>
<g transform="matrix(0.93,0,0,1,6.587,0)"><path class="one num" transform="translate(94.100,393.600) scale(0.00854,-0.00854)" d="M715,0 L715,1409 L575,1409 C535,1290 430,1200 170,1170 L170,1015 C330,1035 450,1085 530,1150 L530,0 Z"/></g>
</g>
<g id="g_y0s"><text id="y0s" class="num" x="113.97" y="387.7" font-size="12" textLength="4.91" lengthAdjust="spacingAndGlyphs">0</text>
</g>
<g id="g_x0"><text id="x0" class="num" x="120.72" y="421.7" font-size="17.5" textLength="8.58" lengthAdjust="spacingAndGlyphs">0</text>
</g>
<g id="g_x7"><text id="x7" class="num" x="172.36" y="425.0" font-size="17.5" textLength="8.96" lengthAdjust="spacingAndGlyphs">7</text>
</g>
<g id="g_x14"><text id="x14" class="num" x="218.00" y="423.0" font-size="17.5" textLength="19.72" lengthAdjust="spacing" transform="matrix(0.93,0,0,1,15.260,0)"><tspan class="h">1</tspan>4</text>
<g transform="matrix(0.93,0,0,1,15.260,0)"><path class="one num" transform="translate(218.000,423.000) scale(0.00854,-0.00854)" d="M715,0 L715,1409 L575,1409 C535,1290 430,1200 170,1170 L170,1015 C330,1035 450,1085 530,1150 L530,0 Z"/></g>
</g>
<g id="g_x21"><text id="x21" class="num" x="272.80" y="422.0" font-size="17.5" textLength="22.68" lengthAdjust="spacing" transform="matrix(0.93,0,0,1,19.096,0)">2<tspan class="h">1</tspan></text>
<g transform="matrix(0.93,0,0,1,19.096,0)"><path class="one num" transform="translate(285.755,422.000) scale(0.00854,-0.00854)" d="M715,0 L715,1409 L575,1409 C535,1290 430,1200 170,1170 L170,1015 C330,1035 450,1085 530,1150 L530,0 Z"/></g>
</g>
<g id="g_x28"><text id="x28" class="num" x="324.20" y="420.5" font-size="17.5" textLength="21.33" lengthAdjust="spacing" transform="matrix(0.93,0,0,1,22.694,0)">28</text>
</g>
<g id="g_x35"><text id="x35" class="num" x="379.55" y="420.5" font-size="17.5" textLength="20.52" lengthAdjust="spacing" transform="matrix(0.93,0,0,1,26.568,0)">35</text>
</g>
<g id="g_x42"><text id="x42" class="num" x="428.55" y="421.9" font-size="17.5" textLength="21.87" lengthAdjust="spacing" transform="matrix(0.93,0,0,1,29.998,0)">42</text>
</g>
<g id="g_x49"><text id="x49" class="num" x="481.95" y="422.0" font-size="17.5" textLength="21.06" lengthAdjust="spacing" transform="matrix(0.93,0,0,1,33.736,0)">49</text>
</g>
<g id="g_x56"><text id="x56" class="num" x="538.40" y="421.0" font-size="17.5" textLength="20.26" lengthAdjust="spacing" transform="matrix(0.93,0,0,1,37.688,0)">56</text>
</g>
<g id="g_tt"><text id="tt" x="291.95" y="448.7" font-size="20.5" textLength="117.59" lengthAdjust="spacing" transform="matrix(0.93,0,0,1,20.436,0)">Time (days)</text>
</g>
<g transform="translate(54.9,255.6) rotate(-90)"><text id="rot1" x="0.5" y="0" text-anchor="middle" font-size="18" textLength="179.2" lengthAdjust="spacingAndGlyphs">Antibody concentration</text><text id="rot2" x="-0.25" y="21.3" text-anchor="middle" font-size="18" textLength="119.4" lengthAdjust="spacingAndGlyphs">(arbitrary units)</text></g>
</svg>
</body></html>
